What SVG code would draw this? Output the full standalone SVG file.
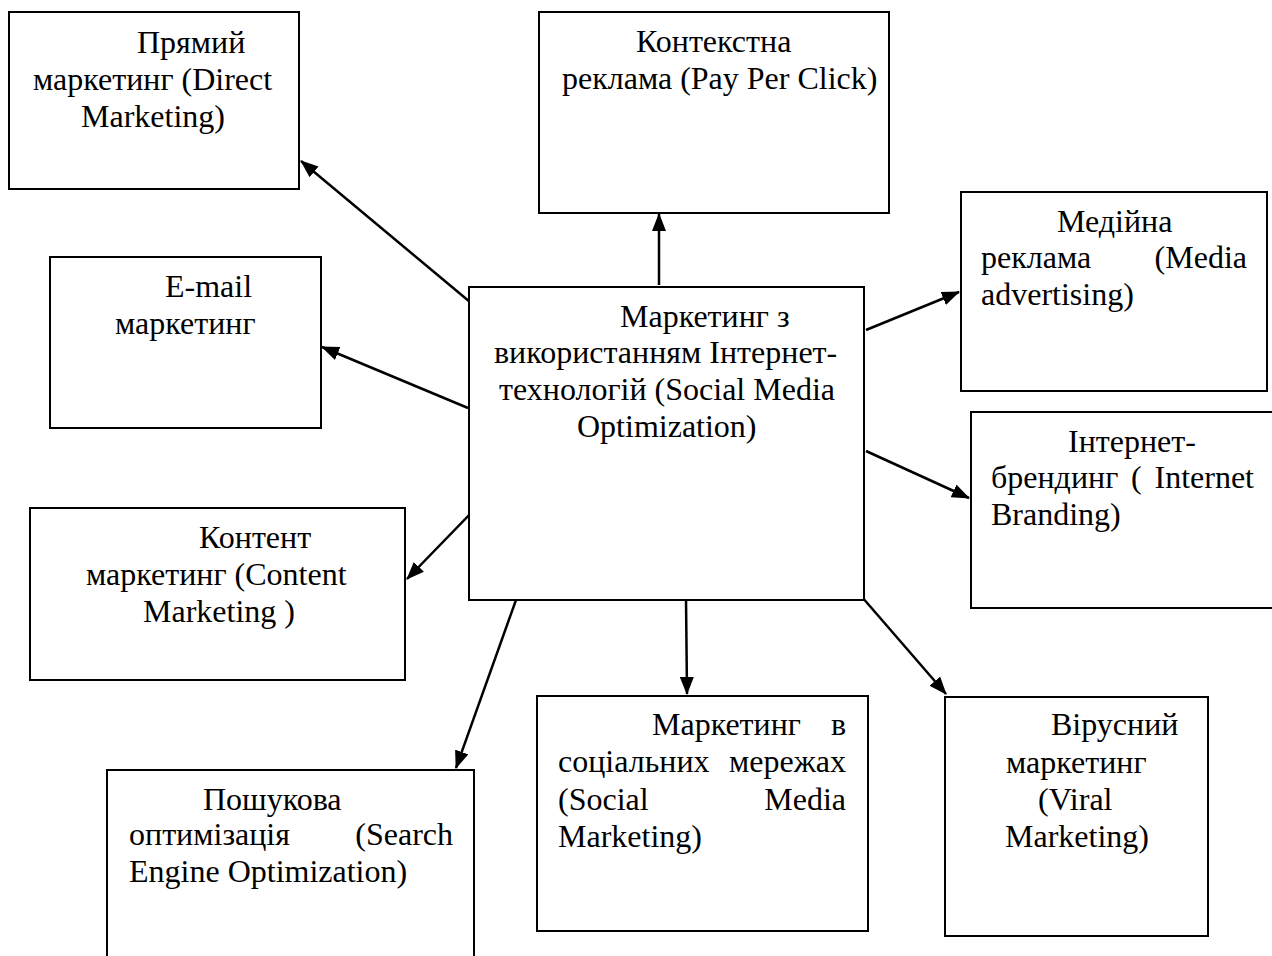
<svg xmlns="http://www.w3.org/2000/svg" width="1272" height="956" viewBox="0 0 1272 956">
  <style>
    .box { fill: #ffffff; stroke: #000000; stroke-width: 2; }
    .lbl { font-family: "Liberation Serif", "Times New Roman", serif; font-size: 32px; fill: #000000; }
    .end { text-anchor: end; }
    .conn { stroke: #000000; stroke-width: 2.5; fill: none; marker-end: url(#arrow); }
  </style>
  <defs>
    <marker id="arrow" markerUnits="userSpaceOnUse" markerWidth="18" markerHeight="14" refX="17" refY="7" orient="auto">
      <path d="M0,0 L18,7 L0,14 Z" fill="#000000"/>
    </marker>
  </defs>

  <rect width="1272" height="956" fill="#ffffff"/>

  <!-- connectors from the central box -->
  <g id="connectors">
    <line class="conn" x1="659" y1="285" x2="659" y2="214"/>
    <line class="conn" x1="470" y1="302" x2="301" y2="161"/>
    <line class="conn" x1="468" y1="408" x2="322" y2="347"/>
    <line class="conn" x1="476" y1="508" x2="407" y2="579"/>
    <line class="conn" x1="866" y1="330" x2="959" y2="292"/>
    <line class="conn" x1="866" y1="451" x2="969" y2="498"/>
    <line class="conn" x1="516" y1="600" x2="456" y2="768"/>
    <line class="conn" x1="686" y1="598" x2="687" y2="694"/>
    <line class="conn" x1="862" y1="597" x2="946" y2="694"/>
  </g>

  <g id="central">
    <rect class="box" x="469" y="287" width="395" height="313"/>
    <text class="lbl" x="620" y="327">Маркетинг з</text>
    <text class="lbl" x="494" y="363">використанням Інтернет-</text>
    <text class="lbl" x="499" y="400">технологій (Social Media</text>
    <text class="lbl" x="577" y="437">Optimization)</text>
  </g>

  <g id="direct">
    <rect class="box" x="9" y="12" width="290" height="177"/>
    <text class="lbl" x="137" y="53">Прямий</text>
    <text class="lbl" x="33" y="90">маркетинг (Direct</text>
    <text class="lbl" x="81" y="127">Marketing)</text>
  </g>

  <g id="ppc">
    <rect class="box" x="539" y="12" width="350" height="201"/>
    <text class="lbl" x="636" y="52">Контекстна</text>
    <text class="lbl" x="562" y="89">реклама (Pay Per Click)</text>
  </g>

  <g id="email">
    <rect class="box" x="50" y="257" width="271" height="171"/>
    <text class="lbl" x="165" y="297">E-mail</text>
    <text class="lbl" x="115" y="334">маркетинг</text>
  </g>

  <g id="media">
    <rect class="box" x="961" y="192" width="306" height="199"/>
    <text class="lbl" x="1057" y="232">Медійна</text>
    <text class="lbl" x="981" y="268">реклама</text>
    <text class="lbl end" x="1247" y="268">(Media</text>
    <text class="lbl" x="981" y="305">advertising)</text>
  </g>

  <g id="branding">
    <rect class="box" x="971" y="412" width="305" height="196"/>
    <text class="lbl" x="1068" y="452">Інтернет-</text>
    <text class="lbl" x="991" y="488">брендинг</text>
    <text class="lbl" x="1131" y="488">(</text>
    <text class="lbl end" x="1254" y="488">Internet</text>
    <text class="lbl" x="991" y="525">Branding)</text>
  </g>

  <g id="content">
    <rect class="box" x="30" y="508" width="375" height="172"/>
    <text class="lbl" x="199" y="548">Контент</text>
    <text class="lbl" x="86" y="585">маркетинг (Content</text>
    <text class="lbl" x="143" y="622">Marketing )</text>
  </g>

  <g id="seo">
    <rect class="box" x="107" y="770" width="367" height="200"/>
    <text class="lbl" x="203" y="810">Пошукова</text>
    <text class="lbl" x="129" y="845">оптимізація</text>
    <text class="lbl end" x="453" y="845">(Search</text>
    <text class="lbl" x="129" y="882">Engine Optimization)</text>
  </g>

  <g id="smm">
    <rect class="box" x="537" y="696" width="331" height="235"/>
    <text class="lbl" x="652" y="735">Маркетинг</text>
    <text class="lbl end" x="846" y="735">в</text>
    <text class="lbl" x="558" y="772">соціальних</text>
    <text class="lbl end" x="846" y="772">мережах</text>
    <text class="lbl" x="558" y="810">(Social</text>
    <text class="lbl end" x="846" y="810">Media</text>
    <text class="lbl" x="558" y="847">Marketing)</text>
  </g>

  <g id="viral">
    <rect class="box" x="945" y="697" width="263" height="239"/>
    <text class="lbl" x="1051" y="735">Вірусний</text>
    <text class="lbl" x="1006" y="773">маркетинг</text>
    <text class="lbl" x="1038" y="810">(Viral</text>
    <text class="lbl" x="1005" y="847">Marketing)</text>
  </g>
</svg>
